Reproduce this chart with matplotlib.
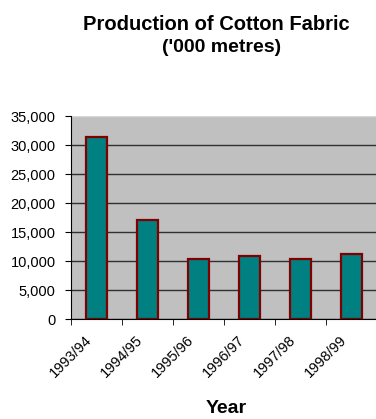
import matplotlib
matplotlib.use("Agg")
import matplotlib.pyplot as plt
from matplotlib.ticker import FuncFormatter, FixedLocator, NullFormatter
from matplotlib.transforms import ScaledTranslation

plt.rcParams['font.family'] = ['Liberation Sans', 'DejaVu Sans']

years = ["1993/94", "1994/95", "1995/96", "1996/97", "1997/98", "1998/99"]
production = [31400, 17000, 10300, 10800, 10300, 11200]

fig = plt.figure(figsize=(3.76, 4.19), dpi=100)
ax = fig.add_axes([71/376, 1 - 319/419, 306/376, 203/419])
ax.set_facecolor('#C0C0C0')

x = list(range(len(years)))
ax.bar(x, production, width=0.4, color='#008080', edgecolor='#800000', linewidth=1.6, zorder=3)

ax.set_xlim(-0.5, len(years) - 0.5)
ax.set_ylim(0, 35000)
ax.set_yticks(range(0, 35001, 5000))
ax.yaxis.set_major_formatter(FuncFormatter(lambda v, p: f"{int(v):,}"))
ax.grid(axis='y', color='#303030', linewidth=1.0, zorder=1)
ax.get_ygridlines()[-1].set_color('#d8d8d8')

# category labels at bar centres, tick marks between categories
ax.set_xticks(x)
ax.set_xticklabels(years, rotation=45, ha='right', va='center',
                   rotation_mode='anchor', fontsize=10.5)
ax.tick_params(axis='x', which='major', length=0, pad=13.5)
shift = ScaledTranslation(-0.07, 0, fig.dpi_scale_trans)
for lbl in ax.get_xticklabels():
    lbl.set_transform(lbl.get_transform() + shift)
ax.xaxis.set_minor_locator(FixedLocator([i - 0.5 for i in range(len(years) + 1)]))
ax.xaxis.set_minor_formatter(NullFormatter())
ax.tick_params(axis='x', which='minor', length=4, direction='out', color='black')
ax.tick_params(axis='y', length=4, direction='out', labelsize=10.5, pad=7, color='black')

for s in ['top', 'right']:
    ax.spines[s].set_visible(False)
ax.spines['left'].set_color('black')
ax.spines['bottom'].set_color('black')

ax.set_xlabel("Year", fontsize=14, fontweight='bold')
ax.xaxis.set_label_coords((226 - 71)/306, (319 - 408)/203)
ax.xaxis.label.set_va('center')

fig.text(216.5/376, 1 - 25/419, "Production of Cotton Fabric", ha='center', va='center',
         fontsize=14.5, fontweight='bold')
fig.text(221.5/376, 1 - 47/419, "('000 metres)", ha='center', va='center',
         fontsize=14, fontweight='bold')

fig.savefig("out.png", dpi=100)
